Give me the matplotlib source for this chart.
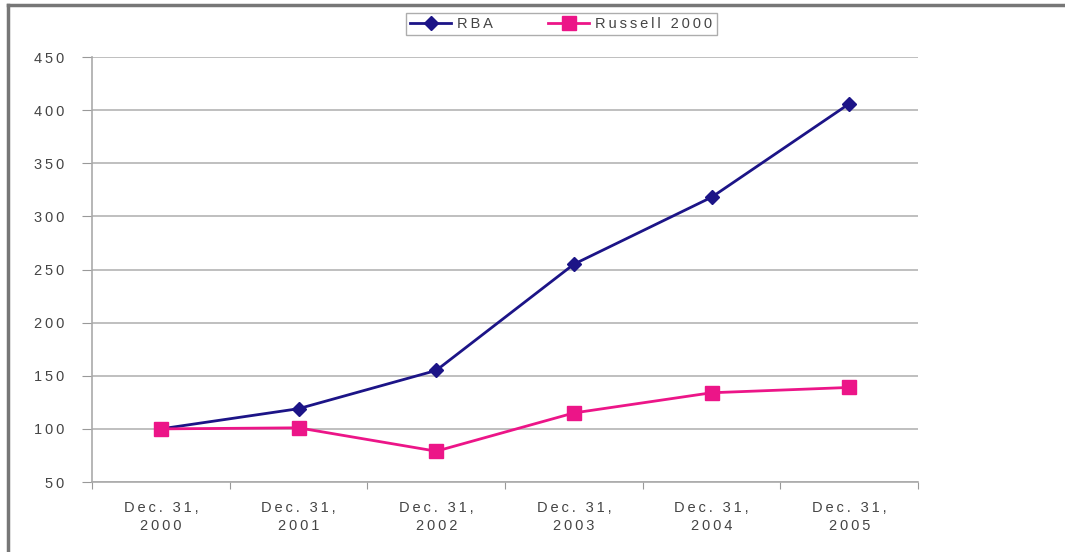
import matplotlib.pyplot as plt
import numpy as np
from matplotlib.lines import Line2D

plt.rcParams["font.family"] = ["Liberation Sans", "DejaVu Sans"]

dates = ["Dec. 31,\n2000", "Dec. 31,\n2001", "Dec. 31,\n2002",
         "Dec. 31,\n2003", "Dec. 31,\n2004", "Dec. 31,\n2005"]
rba = [100, 119, 155, 255, 318, 406]
russell = [100, 101, 79, 115, 134, 139]
y_ticks = [50, 100, 150, 200, 250, 300, 350, 400, 450]


def spaced(s):
    # wide letter spacing like the original
    return "\n".join("\u2009".join(line) for line in s.split("\n"))


fig = plt.figure(figsize=(10.65, 5.52), dpi=100)
ax = fig.add_axes([0.0864, 0.1268, 0.862 - 0.0864, 0.8967 - 0.1268])

x = np.arange(len(dates)) + 0.5
ax.plot(x, rba, color="#1c1487", lw=2, marker="D", ms=7, label=spaced("RBA"), zorder=3)
ax.plot(x, russell, color="#ec1588", lw=2, marker="s", ms=10, label=spaced("Russell 2000"), zorder=3)

ax.set_xlim(0, len(dates))
ax.set_ylim(50, 450)
ax.set_yticks(y_ticks)
ax.set_yticklabels([spaced(str(v)) for v in y_ticks])
ax.set_xticks(np.arange(len(dates) + 1))
ax.set_xticklabels([])
ax.set_xticks(x, minor=True)
ax.set_xticklabels([spaced(d) for d in dates], minor=True)
ax.tick_params(axis="x", which="minor", length=0, pad=14)
ax.tick_params(axis="x", which="major", length=5, color="#999999")
ax.tick_params(axis="y", length=7, color="#999999", pad=13)
for lbl in ax.get_xticklabels(minor=True) + ax.get_yticklabels():
    lbl.set_fontsize(10.5)
    lbl.set_color("#444444")
    lbl.set_linespacing(1.3)

ax.grid(axis="y", color="#b4b4b4", lw=1.2)
ax.set_axisbelow(True)
for side in ["top", "right"]:
    ax.spines[side].set_visible(False)
for side in ["left", "bottom"]:
    ax.spines[side].set_color("#aaaaaa")
    ax.spines[side].set_linewidth(1.2)

leg = ax.legend(loc="center", bbox_to_anchor=(0.527, 0.9565), bbox_transform=fig.transFigure,
                ncol=2, frameon=True, fancybox=False, fontsize=10.5, handlelength=2.8,
                columnspacing=3.8, borderpad=0.3, handletextpad=0.4, borderaxespad=0)
leg.get_frame().set_edgecolor("#999999")
leg.get_frame().set_linewidth(1)
for t in leg.get_texts():
    t.set_color("#444444")

# outer frame (top and left only)
fig.add_artist(Line2D([8 / 1065, 1], [1 - 5 / 552, 1 - 5 / 552], color="#777777", lw=2.5))
fig.add_artist(Line2D([8 / 1065, 8 / 1065], [0, 1 - 5 / 552], color="#777777", lw=2.5))

fig.savefig("out.png", dpi=100)
